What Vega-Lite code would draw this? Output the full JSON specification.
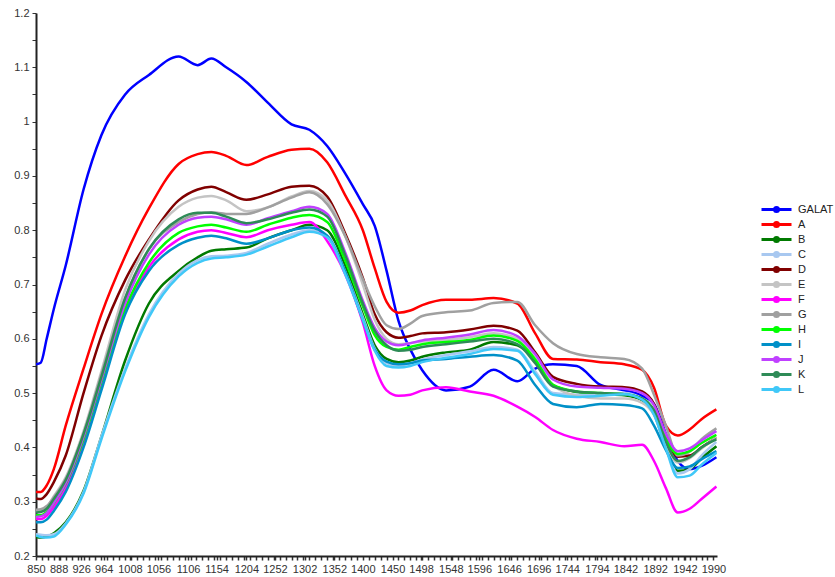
{
  "$schema": "https://vega.github.io/schema/vega-lite/v6.json",
  "width": 681,
  "height": 543,
  "autosize": {"type": "none"},
  "padding": {"left": 36, "top": 13, "right": 118, "bottom": 21},
  "background": "white",
  "config": {"view": {"stroke": null}, "font": "Liberation Sans"},
  "data": {"values": [
    {"w":850,"GALAT":0.553,"A":0.318,"B":0.235,"C":0.24,"D":0.306,"E":0.283,"F":0.268,"G":0.285,"H":0.275,"I":0.262,"J":0.272,"K":0.28,"L":0.238},
    {"w":858,"GALAT":0.556,"A":0.318,"B":0.234,"C":0.239,"D":0.305,"E":0.284,"F":0.268,"G":0.286,"H":0.275,"I":0.262,"J":0.273,"K":0.281,"L":0.235},
    {"w":868,"GALAT":0.6,"A":0.33,"B":0.236,"C":0.238,"D":0.314,"E":0.29,"F":0.274,"G":0.292,"H":0.281,"I":0.267,"J":0.279,"K":0.287,"L":0.234},
    {"w":880,"GALAT":0.655,"A":0.36,"B":0.242,"C":0.24,"D":0.336,"E":0.31,"F":0.29,"G":0.308,"H":0.297,"I":0.283,"J":0.298,"K":0.305,"L":0.236},
    {"w":900,"GALAT":0.735,"A":0.44,"B":0.262,"C":0.26,"D":0.385,"E":0.345,"F":0.325,"G":0.342,"H":0.333,"I":0.318,"J":0.335,"K":0.34,"L":0.258},
    {"w":930,"GALAT":0.875,"A":0.545,"B":0.32,"C":0.318,"D":0.5,"E":0.43,"F":0.41,"G":0.425,"H":0.415,"I":0.4,"J":0.42,"K":0.425,"L":0.315},
    {"w":960,"GALAT":0.975,"A":0.645,"B":0.42,"C":0.42,"D":0.605,"E":0.54,"F":0.515,"G":0.535,"H":0.52,"I":0.505,"J":0.525,"K":0.53,"L":0.415},
    {"w":1000,"GALAT":1.05,"A":0.752,"B":0.56,"C":0.545,"D":0.708,"E":0.69,"F":0.65,"G":0.675,"H":0.655,"I":0.645,"J":0.665,"K":0.675,"L":0.54},
    {"w":1040,"GALAT":1.086,"A":0.84,"B":0.665,"C":0.645,"D":0.783,"E":0.78,"F":0.732,"G":0.765,"H":0.74,"I":0.725,"J":0.755,"K":0.765,"L":0.64},
    {"w":1090,"GALAT":1.12,"A":0.922,"B":0.725,"C":0.72,"D":0.855,"E":0.843,"F":0.783,"G":0.815,"H":0.795,"I":0.773,"J":0.81,"K":0.82,"L":0.715},
    {"w":1122,"GALAT":1.104,"A":0.94,"B":0.75,"C":0.745,"D":0.875,"E":0.86,"F":0.797,"G":0.83,"H":0.807,"I":0.786,"J":0.823,"K":0.832,"L":0.74},
    {"w":1145,"GALAT":1.116,"A":0.944,"B":0.762,"C":0.752,"D":0.88,"E":0.863,"F":0.8,"G":0.833,"H":0.81,"I":0.79,"J":0.825,"K":0.832,"L":0.748},
    {"w":1170,"GALAT":1.1,"A":0.937,"B":0.765,"C":0.753,"D":0.87,"E":0.855,"F":0.795,"G":0.83,"H":0.805,"I":0.785,"J":0.82,"K":0.825,"L":0.75},
    {"w":1204,"GALAT":1.073,"A":0.92,"B":0.768,"C":0.758,"D":0.856,"E":0.835,"F":0.787,"G":0.83,"H":0.797,"I":0.775,"J":0.81,"K":0.813,"L":0.755},
    {"w":1240,"GALAT":1.035,"A":0.935,"B":0.785,"C":0.775,"D":0.866,"E":0.842,"F":0.8,"G":0.842,"H":0.81,"I":0.785,"J":0.822,"K":0.82,"L":0.77},
    {"w":1280,"GALAT":0.995,"A":0.948,"B":0.8,"C":0.792,"D":0.88,"E":0.862,"F":0.81,"G":0.86,"H":0.823,"I":0.8,"J":0.835,"K":0.832,"L":0.787},
    {"w":1310,"GALAT":0.985,"A":0.95,"B":0.81,"C":0.8,"D":0.882,"E":0.872,"F":0.815,"G":0.87,"H":0.828,"I":0.805,"J":0.843,"K":0.838,"L":0.797},
    {"w":1340,"GALAT":0.955,"A":0.925,"B":0.8,"C":0.79,"D":0.862,"E":0.855,"F":0.78,"G":0.848,"H":0.815,"I":0.79,"J":0.83,"K":0.825,"L":0.787},
    {"w":1370,"GALAT":0.905,"A":0.865,"B":0.735,"C":0.725,"D":0.795,"E":0.79,"F":0.72,"G":0.79,"H":0.745,"I":0.725,"J":0.76,"K":0.755,"L":0.72},
    {"w":1400,"GALAT":0.848,"A":0.8,"B":0.645,"C":0.64,"D":0.712,"E":0.7,"F":0.63,"G":0.71,"H":0.66,"I":0.635,"J":0.67,"K":0.665,"L":0.635},
    {"w":1420,"GALAT":0.808,"A":0.73,"B":0.588,"C":0.582,"D":0.645,"E":0.635,"F":0.55,"G":0.66,"H":0.607,"I":0.58,"J":0.62,"K":0.615,"L":0.578},
    {"w":1440,"GALAT":0.725,"A":0.668,"B":0.563,"C":0.555,"D":0.612,"E":0.6,"F":0.505,"G":0.625,"H":0.585,"I":0.558,"J":0.595,"K":0.588,"L":0.55},
    {"w":1460,"GALAT":0.633,"A":0.648,"B":0.557,"C":0.55,"D":0.602,"E":0.59,"F":0.495,"G":0.618,"H":0.58,"I":0.553,"J":0.588,"K":0.578,"L":0.547},
    {"w":1480,"GALAT":0.58,"A":0.652,"B":0.56,"C":0.555,"D":0.605,"E":0.592,"F":0.497,"G":0.628,"H":0.585,"I":0.555,"J":0.592,"K":0.58,"L":0.55},
    {"w":1500,"GALAT":0.542,"A":0.662,"B":0.567,"C":0.562,"D":0.61,"E":0.595,"F":0.505,"G":0.642,"H":0.59,"I":0.56,"J":0.597,"K":0.585,"L":0.557},
    {"w":1540,"GALAT":0.505,"A":0.672,"B":0.575,"C":0.57,"D":0.612,"E":0.598,"F":0.511,"G":0.649,"H":0.594,"I":0.563,"J":0.602,"K":0.59,"L":0.565},
    {"w":1580,"GALAT":0.512,"A":0.672,"B":0.58,"C":0.577,"D":0.617,"E":0.603,"F":0.503,"G":0.652,"H":0.598,"I":0.567,"J":0.608,"K":0.595,"L":0.572},
    {"w":1620,"GALAT":0.543,"A":0.675,"B":0.594,"C":0.585,"D":0.624,"E":0.61,"F":0.495,"G":0.666,"H":0.606,"I":0.57,"J":0.616,"K":0.6,"L":0.581},
    {"w":1660,"GALAT":0.522,"A":0.665,"B":0.588,"C":0.58,"D":0.615,"E":0.6,"F":0.475,"G":0.668,"H":0.596,"I":0.56,"J":0.605,"K":0.59,"L":0.578},
    {"w":1690,"GALAT":0.545,"A":0.61,"B":0.56,"C":0.54,"D":0.575,"E":0.565,"F":0.456,"G":0.625,"H":0.562,"I":0.515,"J":0.572,"K":0.555,"L":0.535},
    {"w":1720,"GALAT":0.553,"A":0.563,"B":0.515,"C":0.5,"D":0.53,"E":0.515,"F":0.432,"G":0.592,"H":0.515,"I":0.48,"J":0.525,"K":0.512,"L":0.497},
    {"w":1760,"GALAT":0.55,"A":0.562,"B":0.502,"C":0.497,"D":0.517,"E":0.495,"F":0.416,"G":0.572,"H":0.503,"I":0.474,"J":0.512,"K":0.503,"L":0.493},
    {"w":1800,"GALAT":0.515,"A":0.557,"B":0.498,"C":0.498,"D":0.512,"E":0.49,"F":0.41,"G":0.566,"H":0.5,"I":0.48,"J":0.51,"K":0.5,"L":0.495},
    {"w":1840,"GALAT":0.505,"A":0.553,"B":0.496,"C":0.5,"D":0.511,"E":0.49,"F":0.402,"G":0.563,"H":0.498,"I":0.478,"J":0.508,"K":0.498,"L":0.498},
    {"w":1870,"GALAT":0.495,"A":0.543,"B":0.487,"C":0.49,"D":0.503,"E":0.482,"F":0.405,"G":0.545,"H":0.49,"I":0.472,"J":0.5,"K":0.49,"L":0.488},
    {"w":1890,"GALAT":0.48,"A":0.51,"B":0.462,"C":0.462,"D":0.48,"E":0.46,"F":0.375,"G":0.497,"H":0.468,"I":0.44,"J":0.478,"K":0.468,"L":0.46},
    {"w":1910,"GALAT":0.425,"A":0.44,"B":0.4,"C":0.4,"D":0.42,"E":0.405,"F":0.325,"G":0.44,"H":0.415,"I":0.395,"J":0.425,"K":0.41,"L":0.398},
    {"w":1930,"GALAT":0.375,"A":0.422,"B":0.357,"C":0.352,"D":0.383,"E":0.372,"F":0.28,"G":0.385,"H":0.388,"I":0.362,"J":0.393,"K":0.375,"L":0.345},
    {"w":1950,"GALAT":0.36,"A":0.433,"B":0.36,"C":0.36,"D":0.385,"E":0.38,"F":0.287,"G":0.392,"H":0.393,"I":0.365,"J":0.398,"K":0.382,"L":0.348},
    {"w":1970,"GALAT":0.366,"A":0.452,"B":0.38,"C":0.385,"D":0.4,"E":0.398,"F":0.305,"G":0.415,"H":0.408,"I":0.378,"J":0.413,"K":0.4,"L":0.368},
    {"w":1995,"GALAT":0.382,"A":0.47,"B":0.402,"C":0.41,"D":0.418,"E":0.418,"F":0.328,"G":0.435,"H":0.423,"I":0.393,"J":0.43,"K":0.415,"L":0.39}
  ]},
  "transform": [{"fold": ["GALAT","A","B","C","D","E","F","G","H","I","J","K","L"], "as": ["series","value"]}],
  "mark": {"type": "line", "strokeWidth": 2.5, "interpolate": "monotone", "clip": true},
  "encoding": {
    "x": {
      "field": "w", "type": "quantitative",
      "scale": {"domain": [850, 1996], "nice": false, "zero": false},
      "axis": {
        "title": null,
        "values": [850,860,870,880,888,890,900,910,920,926,930,940,950,960,964,970,980,990,1000,1008,1010,1020,1030,1040,1050,1056,1060,1070,1080,1090,1100,1106,1110,1120,1130,1140,1150,1154,1160,1170,1180,1190,1200,1204,1210,1220,1230,1240,1250,1252,1260,1270,1280,1290,1300,1302,1310,1320,1330,1340,1350,1352,1360,1370,1380,1390,1400,1410,1420,1430,1440,1450,1460,1470,1480,1490,1498,1500,1510,1520,1530,1540,1548,1550,1560,1570,1580,1590,1596,1600,1610,1620,1630,1640,1646,1650,1660,1670,1680,1690,1696,1700,1710,1720,1730,1740,1744,1750,1760,1770,1780,1790,1794,1800,1810,1820,1830,1840,1842,1850,1860,1870,1880,1890,1892,1900,1910,1920,1930,1940,1942,1950,1960,1970,1980,1990],
        "format": "d",
        "labelExpr": "indexof([850,888,926,964,1008,1056,1106,1154,1204,1252,1302,1352,1400,1450,1498,1548,1596,1646,1696,1744,1794,1842,1892,1942,1990], datum.value) >= 0 ? datum.label : ''",
        "labelOverlap": false,
        "labelFlush": false,
        "labelBound": false,
        "labelFont": "Liberation Sans",
        "labelFontSize": 11,
        "labelColor": "#333333",
        "labelPadding": 3,
        "tickSize": 4,
        "tickWidth": 1.5,
        "tickColor": "#333333",
        "domainColor": "#222222",
        "domainWidth": 2,
        "grid": false
      }
    },
    "y": {
      "field": "value", "type": "quantitative",
      "scale": {"domain": [0.2, 1.2], "nice": false, "zero": false},
      "axis": {
        "title": null,
        "values": [0.2,0.25,0.3,0.35,0.4,0.45,0.5,0.55,0.6,0.65,0.7,0.75,0.8,0.85,0.9,0.95,1,1.05,1.1,1.15,1.2],
        "labelExpr": "(round(datum.value*100) % 10 == 0) ? format(datum.value, '~g') : ''",
        "labelOverlap": false,
        "labelFlush": false,
        "labelFont": "Liberation Sans",
        "labelFontSize": 11,
        "labelColor": "#333333",
        "labelPadding": 3,
        "tickSize": 4,
        "tickWidth": 1,
        "tickColor": "#333333",
        "domainColor": "#222222",
        "domainWidth": 2,
        "grid": false
      }
    },
    "color": {
      "field": "series", "type": "nominal",
      "sort": ["GALAT","A","B","C","D","E","F","G","H","I","J","K","L"],
      "scale": {
        "domain": ["GALAT","A","B","C","D","E","F","G","H","I","J","K","L"],
        "range": ["#0000ff","#ff0000","#007a00","#a8c8f0","#800000","#c4c4c4","#ff00ff","#a0a0a0","#00ff00","#0090c8","#c040ff","#2e8b57","#40c8f8"]
      },
      "legend": {
        "title": null,
        "orient": "none",
        "legendX": 734,
        "legendY": 190,
        "padding": 0,
        "symbolType": "M-3,0H3M-0.4,0A0.4,0.4,0,1,1,0.4,0A0.4,0.4,0,1,1,-0.4,0Z",
        "symbolSize": 100,
        "symbolStrokeWidth": 3,
        "labelOffset": 15,
        "labelFont": "Liberation Sans",
        "labelFontSize": 11,
        "labelColor": "#222222",
        "rowPadding": -2.55,
        "encode": {"symbols": {"update": {"fill": {"scale": "color", "field": "value"}, "fillOpacity": {"value": 1}}}}
      }
    }
  }
}
